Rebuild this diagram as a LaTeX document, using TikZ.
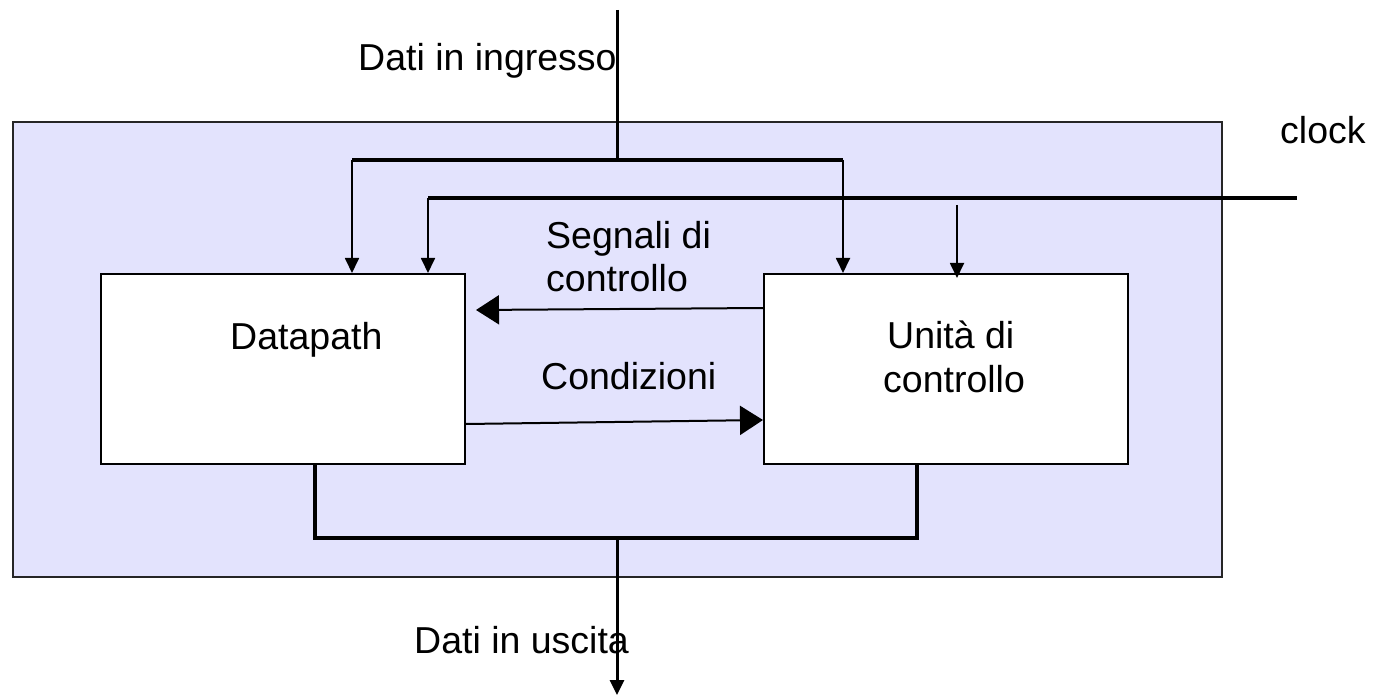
\documentclass[tikz,border=0pt]{standalone}
\usepackage{fontspec}
\setmainfont{Liberation Sans}
\usetikzlibrary{arrows.meta,calc}
\definecolor{lav}{RGB}{227,227,253}
\begin{document}
\begin{tikzpicture}[x=1pt,y=-1pt,
  box/.style={draw=black, line width=2pt, fill=white, inner sep=0pt, anchor=north west, minimum width=364, minimum height=190},
  txt/.style={inner sep=0pt, anchor=base west, font=\fontsize{37.5}{44}\selectfont},
  wire/.style={line width=3pt},
  buswire/.style={line width=4pt},
  drop/.style={line width=1.8pt, -{Triangle[length=15pt,width=14pt]}},
  bigarr/.style={line width=2pt, -{Triangle[length=23pt,width=29pt]}}
]
\useasboundingbox (0,0) rectangle (1374,695);
\node[draw=black!85, line width=2pt, fill=lav, inner sep=0pt, anchor=north west, minimum width=1209, minimum height=455] (sys) at (12,121) {};
\node[box] (dp) at (100,273) {};
\node[box] (cu) at (763,273) {};

\node[txt] (tdp) at (230,349) {Datapath};
\node[txt] (tcu1) at (887,348) {Unità di};
\node[txt] (tcu2) at (883,392) {controllo};
\node[txt] (tseg1) at (546,249) {Segnali di};
\node[txt] (tseg2) at (546,291) {controllo};
\node[txt] (tcond) at (541,389) {Condizioni};
\node[txt] (tin) at (358,71) {Dati in ingresso};
\node[txt] (tout) at (414,653) {Dati in uscita};
\node[txt] (tclk) at (1280,144) {clock};

% input data
\coordinate (in) at (617,10);
\coordinate (jin) at (617,160);
\coordinate (bl) at (352,160);
\coordinate (br) at (843,160);
\draw[wire] (in) -- (jin);
\draw[buswire] (bl) -- (br);
\draw[drop] (bl) -- (bl |- dp.north);
\draw[drop] (br) -- (br |- cu.north);

% clock
\coordinate (clk) at (1297,198);
\coordinate (cl) at (428,198);
\draw[buswire] (clk) -- (cl);
\draw[drop] (cl) -- (cl |- dp.north);
\coordinate (ck2) at (957,205);
\draw[drop] (ck2) -- ($(ck2 |- cu.north)+(0,5)$);

% control signals and conditions
\draw[bigarr] ($(cu.north west)+(0,35)$) -- ($(dp.north east)+(10,37)$);
\draw[bigarr] ($(dp.north east)+(0,151)$) -- ($(cu.north west)+(0,147)$);

% output
\coordinate (dpo) at ($(dp.south west)+(215,0)$);
\coordinate (cuo) at ($(cu.south west)+(154,0)$);
\coordinate (jout) at (617,538);
\coordinate (out) at (617,695);
\draw[buswire] (dpo) -- (dpo |- jout) -- (cuo |- jout) -- (cuo);
\draw[wire, -{Triangle[length=15pt,width=14pt]}] (jout) -- (out);
\end{tikzpicture}
\end{document}
